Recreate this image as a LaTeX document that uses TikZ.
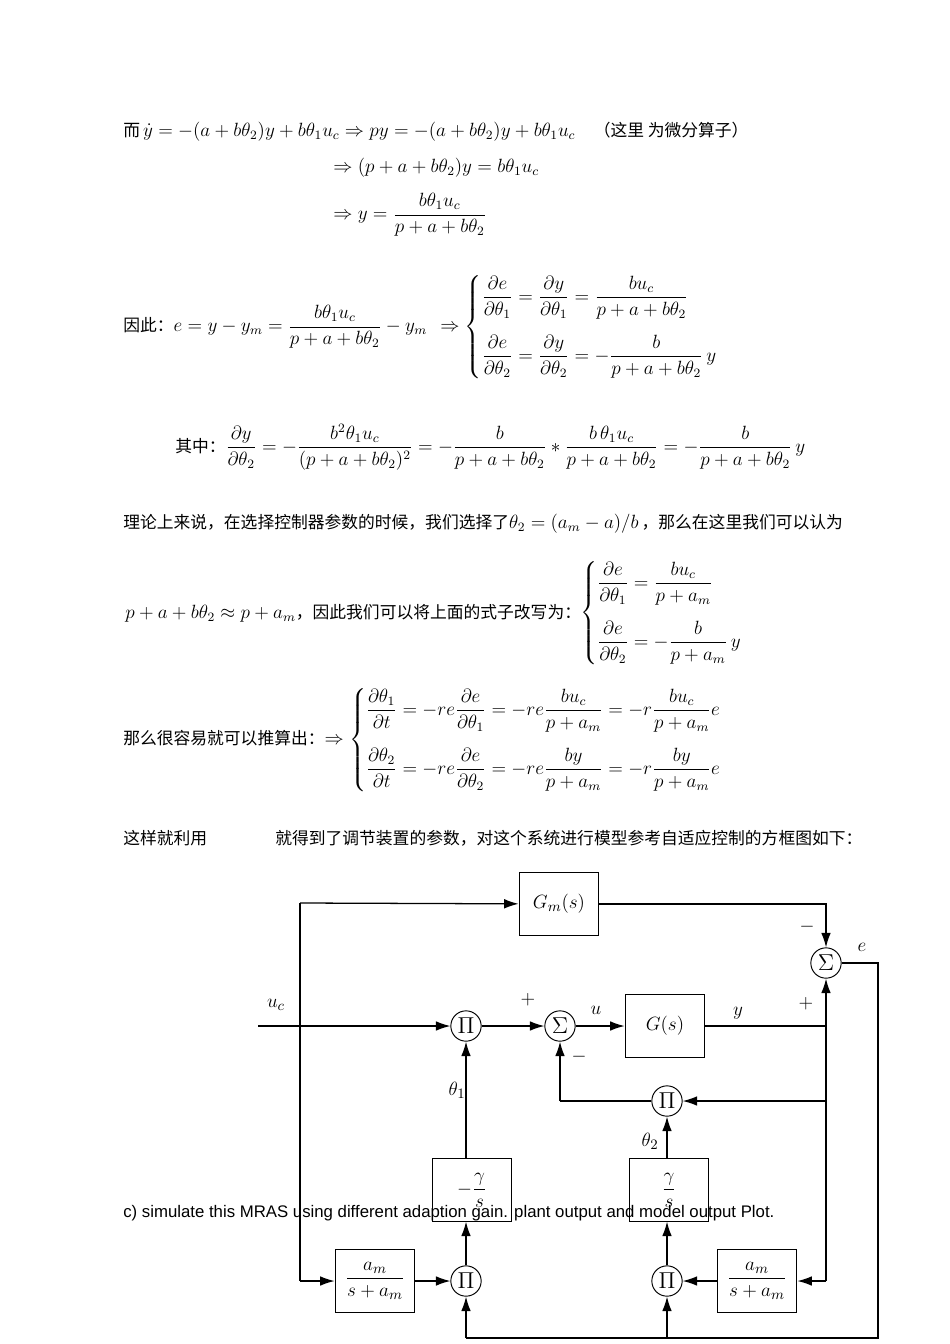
\documentclass[tikz,border=0pt]{standalone}
\usepackage{amsmath}
\usepackage{fontspec}
\newfontfamily\cjk{Noto Sans CJK SC}
\newfontfamily\lsans{Liberation Sans}
\usetikzlibrary{arrows.meta}
\begin{document}
\begin{tikzpicture}[x=0.626pt,y=-0.626pt,
  txt/.style={anchor=west,inner sep=0pt,font=\fontsize{11.5}{13}\selectfont},
  blk/.style={draw,line width=0.6pt,minimum width=50pt,minimum height=39pt,inner sep=0pt,font=\fontsize{13}{15}\selectfont},
  op/.style={draw,circle,line width=0.6pt,minimum size=19pt,inner sep=0pt,font=\fontsize{15}{17}\selectfont},
  ln/.style={line width=0.8pt},
  ar/.style={line width=0.8pt,-{Latex[length=9pt,width=6pt]}},
  lab/.style={inner sep=0pt,font=\fontsize{13}{15}\selectfont}]
\newcommand{\cj}[1]{{\cjk\fontsize{10.5}{12}\selectfont #1}}
\useasboundingbox (0,0) rectangle (950,1344);
\fill[white] (0,0) rectangle (950,1344);
% ---- text ----
\node[txt] (l1) at (123,132) {\cj{而}\,$\dot y=-(a+b\theta_2)y+b\theta_1u_c\Rightarrow py=-(a+b\theta_2)y+b\theta_1u_c$\quad\cj{（这里\ 为微分算子）}};
\node[txt] (l2) at (333,168) {$\Rightarrow(p+a+b\theta_2)y=b\theta_1u_c$};
\node[txt] (l3) at (333,215) {$\Rightarrow y=\dfrac{b\theta_1u_c}{p+a+b\theta_2}$};
\node[txt] (l4) at (123,327) {\cj{因此：}$e=y-y_m=\dfrac{b\theta_1u_c}{p+a+b\theta_2}-y_m$};
\node[txt] (l4b) at (440,327) {$\Rightarrow\left\{\begin{aligned}&\frac{\partial e}{\partial\theta_1}=\frac{\partial y}{\partial\theta_1}=\frac{bu_c}{p+a+b\theta_2}\\[6pt]&\frac{\partial e}{\partial\theta_2}=\frac{\partial y}{\partial\theta_2}=-\frac{b}{p+a+b\theta_2}\,y\end{aligned}\right.$};
\node[txt] (l5) at (175,447) {\cj{其中：}$\dfrac{\partial y}{\partial\theta_2}=-\dfrac{b^2\theta_1u_c}{(p+a+b\theta_2)^2}=-\dfrac{b}{p+a+b\theta_2}*\dfrac{b\,\theta_1u_c}{p+a+b\theta_2}=-\dfrac{b}{p+a+b\theta_2}\,y$};
\node[txt] (l6) at (123,524) {\cj{理论上来说，在选择控制器参数的时候，我们选择了}$\theta_2=(a_m-a)/b$\,\cj{，那么在这里我们可以认为}};
\node[txt] (l7) at (125,613) {$p+a+b\theta_2\approx p+a_m$\cj{，因此我们可以将上面的式子改写为：}};
\node[txt] (l7b) at (580,613) {$\left\{\begin{aligned}&\frac{\partial e}{\partial\theta_1}=\frac{bu_c}{p+a_m}\\[6pt]&\frac{\partial e}{\partial\theta_2}=-\frac{b}{p+a_m}\,y\end{aligned}\right.$};
\node[txt] (l8) at (123,740) {\cj{那么很容易就可以推算出：}$\Rightarrow\left\{\begin{aligned}&\frac{\partial\theta_1}{\partial t}=-re\frac{\partial e}{\partial\theta_1}=-re\frac{bu_c}{p+a_m}=-r\frac{bu_c}{p+a_m}e\\[6pt]&\frac{\partial\theta_2}{\partial t}=-re\frac{\partial e}{\partial\theta_2}=-re\frac{by}{p+a_m}=-r\frac{by}{p+a_m}e\end{aligned}\right.$};
\node[txt] (l9) at (123,838) {\cj{这样就利用}};
\node[txt] (l9b) at (275,838) {\cj{就得到了调节装置的参数，对这个系统进行模型参考自适应控制的方框图如下：}};
% ---- diagram ----
\node[blk] (gm) at (559,904) {$G_m(s)$};
\node[op] (s1) at (826,963) {$\Sigma$};
\node[op] (p1) at (466,1026) {$\Pi$};
\node[op] (s2) at (560,1026) {$\Sigma$};
\node[blk] (g) at (665,1026) {$G(s)$};
\node[op] (p3) at (667,1101) {$\Pi$};
\node[blk] (f1) at (472,1190) {$-\dfrac{\gamma}{s}$};
\node[blk] (f2) at (669,1190) {$\dfrac{\gamma}{s}$};
\node[op] (p4) at (466,1281) {$\Pi$};
\node[op] (p5) at (667,1281) {$\Pi$};
\node[blk] (h1) at (375,1281) {$\dfrac{a_m}{s+a_m}$};
\node[blk] (h2) at (757,1281) {$\dfrac{a_m}{s+a_m}$};
\coordinate (in) at (258,1026);
\coordinate (jt) at (300,903);
\coordinate (jb) at (300,1281);
\coordinate (ey) at (826,1026);
\coordinate (ey2) at (826,1101);
\coordinate (ey3) at (826,1281);
\coordinate (er) at (878,963);
\coordinate (eb) at (878,1338);
\coordinate (b1) at (466,1338);
\coordinate (b2) at (667,1338);
\coordinate (c3) at (560,1101);
\draw[ar] (in) -- (p1);
\draw[ln] (jt) -- (jb);
\draw[ar] (jt) -- (gm);
\draw[ar] (gm) -| (s1);
\draw[ar] (jb) -- (h1);
\draw[ar] (p1) -- (s2);
\draw[ar] (s2) -- (g);
\draw[ln] (g) -- (ey);
\draw[ar] (ey) -- (s1);
\draw[ln] (ey) -- (ey3);
\draw[ar] (ey2) -- (p3);
\draw[ar] (ey3) -- (h2);
\draw[ln] (p3) -- (c3);
\draw[ar] (c3) -- (s2);
\draw[ar] (f1.north -| p1) -- (p1);
\draw[ar] (f2.north -| p3) -- (p3);
\draw[ar] (p4) -- (p4 |- f1.south);
\draw[ar] (p5) -- (p5 |- f2.south);
\draw[ar] (h1) -- (p4);
\draw[ar] (h2) -- (p5);
\draw[ln] (s1) -- (er) -- (eb) -- (b1);
\draw[ar] (b1) -- (p4);
\draw[ar] (b2) -- (p5);
\node[lab] at (276,1005) {$u_c$};
\node[lab] at (528,1000) {$+$};
\node[lab] at (579,1057) {$-$};
\node[lab] at (596,1010) {$u$};
\node[lab] at (738,1013) {$y$};
\node[lab] at (806,1004) {$+$};
\node[lab] at (807,927) {$-$};
\node[lab] at (862,947) {$e$};
\node[lab] at (457,1090) {$\theta_1$};
\node[lab] at (650,1141) {$\theta_2$};
\node[anchor=west,inner sep=0pt,font=\lsans\fontsize{10.5}{12}\selectfont] at (123,1213) {c) simulate this MRAS using different adaption gain. plant output and model output Plot.};
\end{tikzpicture}
\end{document}
